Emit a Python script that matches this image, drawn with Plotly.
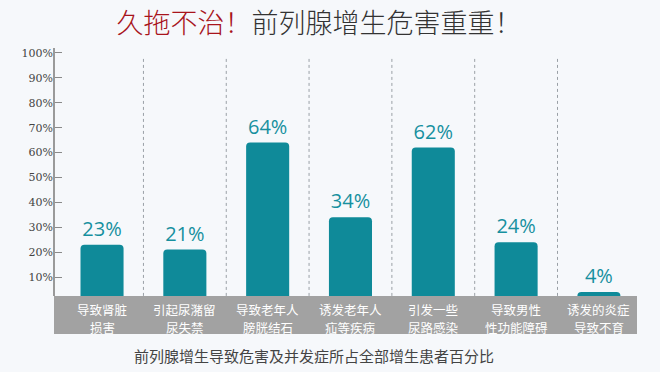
import plotly.graph_objects as go

categories = ["导致肾脏<br>损害", "引起尿潴留<br>尿失禁", "导致老年人<br>膀胱结石", "诱发老年人<br>疝等疾病",
              "引发一些<br>尿路感染", "导致男性<br>性功能障碍", "诱发的炎症<br>导致不育"]
values = [23, 21, 64, 34, 62, 24, 4]
value_labels = ["23%", "21%", "64%", "34%", "62%", "24%", "4%"]
tick_vals = [10, 20, 30, 40, 50, 60, 70, 80, 90, 100]
tick_text = ["10%", "20%", "30%", "40%", "50%", "60%", "70%", "80%", "90%", "100%"]

CJK = "Noto Sans CJK SC"
teal = "#0f8a99"
idx = list(range(len(categories)))

fig = go.Figure()
fig.add_trace(go.Bar(
    x=idx, y=values, width=0.52,
    marker=dict(color=teal, cornerradius=4, line=dict(width=0)),
    text=value_labels, textposition="outside", cliponaxis=False,
    textfont=dict(family="Open Sans, " + CJK, size=20, color="#17909f"),
))

shapes = []
# gray category band
shapes.append(dict(type="rect", xref="paper", yref="y", x0=0, x1=1, y0=-12.9, y1=2.4,
                   fillcolor="#a2a2a2", line=dict(width=0), layer="above"))
# y axis line
shapes.append(dict(type="line", xref="paper", yref="y", x0=0, x1=0, y0=2.4, y1=102,
                   line=dict(color="#9a9a9a", width=2), layer="above"))
# dotted dividers
for i in range(len(categories) - 1):
    shapes.append(dict(type="line", xref="x", yref="y", x0=i + 0.5, x1=i + 0.5, y0=2.4, y1=98.4,
                       line=dict(color="#9aa0a6", width=1, dash="dot"), layer="below"))

annotations = []
for i, c in enumerate(categories):
    lines = c.split("<br>")
    for j, ln in enumerate(lines):
        annotations.append(dict(x=i, y=-3.0 - 7.3 * j, xref="x", yref="y", text=ln, showarrow=False,
                                font=dict(family=CJK, size=12.5, color="#ffffff"),
                                xanchor="center", yanchor="middle"))
annotations.append(dict(x=(314 - 54) / (637 - 54), y=(334 - 355) / (334 - 48), xref="paper", yref="paper",
                        text="前列腺增生导致危害及并发症所占全部增生患者百分比", showarrow=False,
                        font=dict(family=CJK, size=15, color="#444444"),
                        xanchor="center", yanchor="middle"))

fig.update_layout(
    width=660, height=372,
    margin=dict(l=54, r=23, t=48, b=38, autoexpand=False),
    paper_bgcolor="#f6f8fb", plot_bgcolor="#f6f8fb",
    showlegend=False,
    title=dict(text="<span style='color:#a8141c'>久拖不治！</span>前列腺增生危害重重！",
               x=319 / 660, xanchor="center", y=1 - 24 / 372, yanchor="middle",
               font=dict(family=CJK, size=27, color="#333333", weight=300), automargin=False),
    xaxis=dict(range=[-0.58, 6.46], showticklabels=False, showgrid=False, zeroline=False,
               showline=False, ticks="", automargin=False),
    yaxis=dict(range=[-12.9, 102], tickvals=tick_vals, ticktext=tick_text, ticks="inside",
               ticklen=8, tickwidth=1, tickcolor="#8a8a8a", showgrid=False, zeroline=False,
               showline=False, automargin=False,
               tickfont=dict(family="DejaVu Serif", size=11, color="#444444")),
    shapes=shapes, annotations=annotations,
    bargap=0.3,
)

fig.write_html("out.html", config={"displayModeBar": False},
               post_script="document.body.style.margin='0px';document.body.style.overflow='hidden';")
